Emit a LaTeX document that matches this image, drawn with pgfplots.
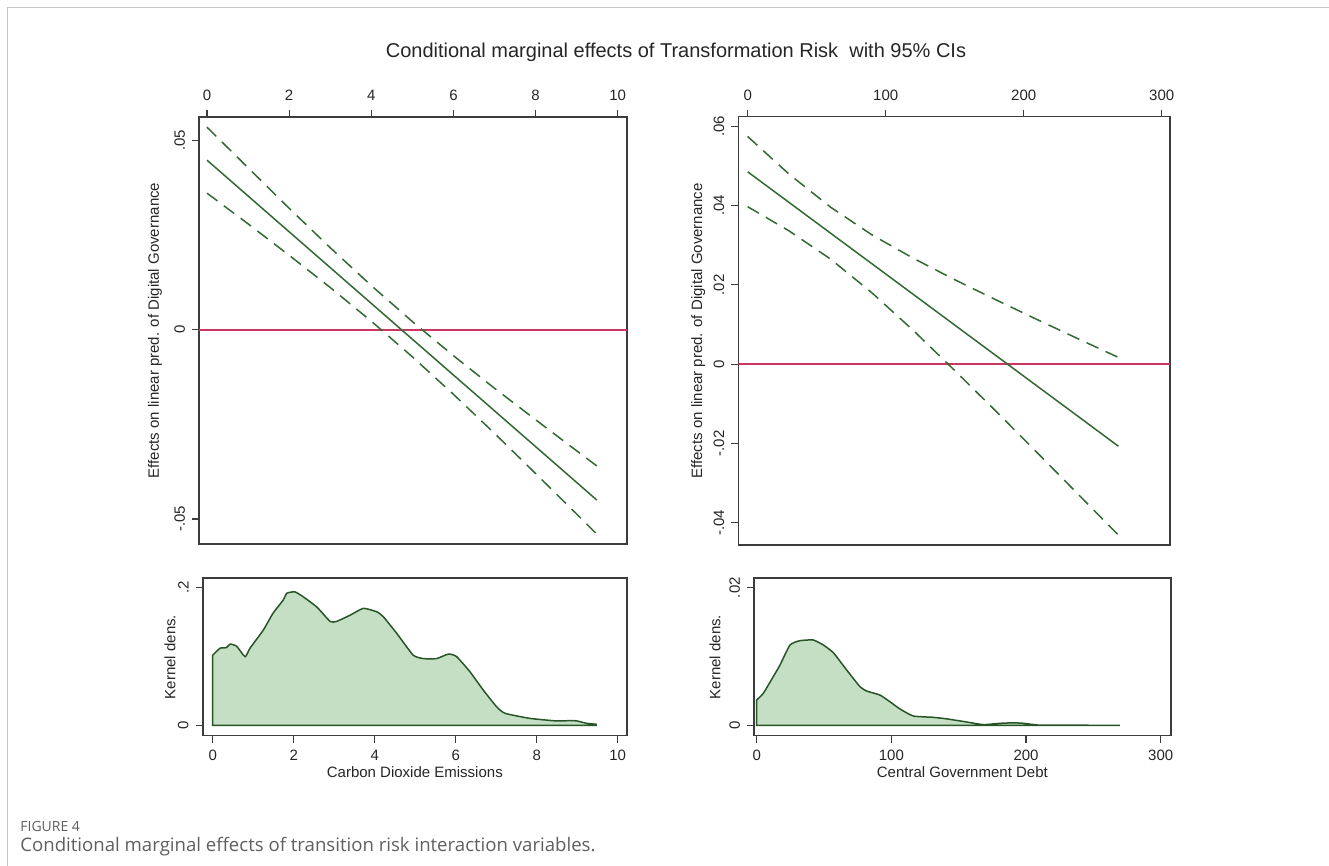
\documentclass[border=0pt]{standalone}
\usepackage{fontspec}
\setmainfont{Liberation Sans}
\newfontfamily\capfont{Open Sans}
\usepackage{pgfplots}
\pgfplotsset{compat=1.18}

\definecolor{framegray}{RGB}{60,60,60}
\definecolor{ciline}{RGB}{50,105,50}
\definecolor{densline}{RGB}{40,85,40}
\definecolor{densfill}{RGB}{197,223,197}
\definecolor{zeroline}{RGB}{205,55,95}
\definecolor{captext}{RGB}{95,95,95}

% marginal effect and 95% CI
\pgfplotstableread{
x     mid      lo       hi
0     0.0447   0.0360   0.0534
1     0.03525  0.0279   0.0427
2     0.0258   0.0196   0.0320
3     0.01635  0.0111   0.0216
4     0.0069   0.0022   0.0116
5    -0.00255 -0.0072   0.0021
6    -0.0120  -0.0171  -0.0069
7    -0.02145 -0.0274  -0.0155
8    -0.0309  -0.0380  -0.0238
9    -0.04035 -0.0487  -0.0320
9.49 -0.0450  -0.0540  -0.0360
}\coteff

\pgfplotstableread{
x      mid      lo       hi
0      0.0485   0.0397   0.0574
30     0.04077  0.0336   0.0479
60     0.03304  0.0265   0.0396
90     0.02532  0.0180   0.0326
120    0.01759  0.0085   0.0267
150    0.00986 -0.0016   0.0213
180    0.00213 -0.0119   0.0162
210   -0.0056  -0.0224   0.0112
240   -0.01332 -0.0330   0.0063
268.6 -0.0207  -0.0431   0.0017
}\debteff

\pgfplotstableread{
x     d
0     0.102
0.18  0.112
0.34  0.113
0.43  0.118
0.59  0.115
0.80  0.0997
0.92  0.112
1.25  0.1385
1.49  0.163
1.74  0.182
1.83  0.192
2.03  0.194
2.23  0.187
2.57  0.172
2.90  0.151
3.06  0.151
3.39  0.160
3.72  0.170
4.05  0.165
4.21  0.158
4.54  0.134
4.95  0.102
5.20  0.097
5.53  0.097
5.82  0.1036
6.02  0.100
6.35  0.078
6.68  0.0513
7.01  0.027
7.22  0.0174
7.83  0.0101
8.49  0.0063
8.82  0.0068
8.98  0.0065
9.23  0.0029
9.47  0.0015
}\cotdens

\pgfplotstableread{
x      d
0      0.00368
4.9    0.00465
12.3   0.00707
17.3   0.00876
24.7   0.01167
32.1   0.0123
42.0   0.0124
49.5   0.01167
56.9   0.01056
66.8   0.00804
76.7   0.00561
81.7   0.00498
91.5   0.0044
98.9   0.00343
106.4  0.00237
116.3  0.00135
131.1  0.00116
141    0.00094
155.9  0.00048
168.3  0.0001
180.7  0.00029
190.6  0.00036
198    0.00029
208    0.00005
215.4  0.00002
269.7  0
}\debtdens

\pgfplotsset{
  stata/.style={
    scale only axis, anchor=south west,
    axis line style={draw=framegray, line width=0.8pt},
    tick align=outside, major tick length=3.5pt,
    tick style={draw=framegray, line width=0.6pt},
    tick label style={font=\fontsize{7.5}{9}\selectfont, text=black!85},
    label style={font=\fontsize{7.5}{9}\selectfont, text=black!85},
    /pgf/number format/assume math mode=true,
    scaled x ticks=false, scaled y ticks=false,
    ytick pos=left,
    yticklabel style={rotate=90, anchor=south},
    ylabel style={rotate=0, anchor=center},
    xlabel style={anchor=center},
  },
  effect/.style={stata, xtick pos=upper, xticklabel pos=upper,
    xticklabel style={yshift=1pt}},
  dens/.style={stata, xtick pos=lower},
  ci/.style={ciline, line width=0.75pt, dash pattern=on 6.5pt off 4pt},
  est/.style={ciline, line width=0.75pt},
  kd/.style={draw=densline, line width=0.75pt, fill=densfill, smooth, tension=0.3},
  zl/.style={draw=zeroline, line width=1pt},
}

\begin{document}
\begin{tikzpicture}
\path[use as bounding box] (0pt,0pt) rectangle (664.5pt,433pt);
\draw[gray!45, line width=0.75pt] (3.65pt,0pt) -- (3.65pt,429.35pt) -- (664.5pt,429.35pt);

\node[font=\fontsize{10}{12}\selectfont, text=black!85] at (338pt,407pt)
  {Conditional marginal effects of Transformation Risk\ \ with 95\% CIs};

% top left
\begin{axis}[effect,
  at={(99.5pt,161pt)}, width=214pt, height=213.5pt,
  xmin=-0.195, xmax=10.226, ymin=-0.0566, ymax=0.0561,
  xtick={0,2,...,10},
  ytick={-0.05,0,0.05}, yticklabels={-.05,0,.05},
  ylabel={Effects on linear pred. of Digital Governance},
  ylabel style={at={(axis description cs:-0.103,0.5)}},
]
\addplot[zl] coordinates {(-1,0) (11,0)};
\addplot[ci] table[x=x, y=hi] {\coteff};
\addplot[ci] table[x=x, y=lo] {\coteff};
\addplot[est] table[x=x, y=mid] {\coteff};
\end{axis}

% bottom left
\begin{axis}[dens,
  at={(101.35pt,65.15pt)}, width=212.15pt, height=78.7pt,
  xmin=-0.247, xmax=10.23, ymin=-0.0151, ymax=0.2137,
  xtick={0,2,...,10},
  ytick={0,0.2}, yticklabels={0,.2},
  xlabel={Carbon Dioxide Emissions},
  xlabel style={at={(axis description cs:0.5,-0.229)}},
  ylabel={Kernel dens.},
  ylabel style={at={(axis description cs:-0.077,0.5)}},
]
\addplot[kd] table[x=x, y=d] {\cotdens} \closedcycle;
\end{axis}

% top right
\begin{axis}[effect,
  at={(369.15pt,160.5pt)}, width=215.85pt, height=214.15pt,
  xmin=-6.8, xmax=306, ymin=-0.0456, ymax=0.0624,
  xtick={0,100,200,300},
  ytick={-0.04,-0.02,0,0.02,0.04,0.06}, yticklabels={-.04,-.02,0,.02,.04,.06},
  ylabel={Effects on linear pred. of Digital Governance},
  ylabel style={at={(axis description cs:-0.0927,0.5)}},
]
\addplot[zl] coordinates {(-10,0) (320,0)};
\addplot[ci] table[x=x, y=hi] {\debteff};
\addplot[ci] table[x=x, y=lo] {\debteff};
\addplot[est] table[x=x, y=mid] {\debteff};
\end{axis}

% bottom right
\begin{axis}[dens,
  at={(377pt,65.15pt)}, width=208.35pt, height=78.7pt,
  xmin=-2.0, xmax=307.4, ymin=-0.00151, ymax=0.02137,
  xtick={0,100,200,300},
  ytick={0,0.02}, yticklabels={0,.02},
  xlabel={Central Government Debt},
  xlabel style={at={(axis description cs:0.5,-0.229)}},
  ylabel={Kernel dens.},
  ylabel style={at={(axis description cs:-0.0936,0.5)}},
]
\addplot[kd] table[x=x, y=d] {\debtdens} \closedcycle;
\end{axis}

\node[anchor=west, inner sep=0pt, font=\capfont\fontsize{7}{8}\selectfont, text=captext] at (10pt,19.5pt) {FIGURE 4};
\node[anchor=west, inner sep=0pt, font=\capfont\fontsize{9.3}{11}\selectfont, text=captext] at (10pt,9.8pt)
  {Conditional marginal effects of transition risk interaction variables.};
\end{tikzpicture}
\end{document}
